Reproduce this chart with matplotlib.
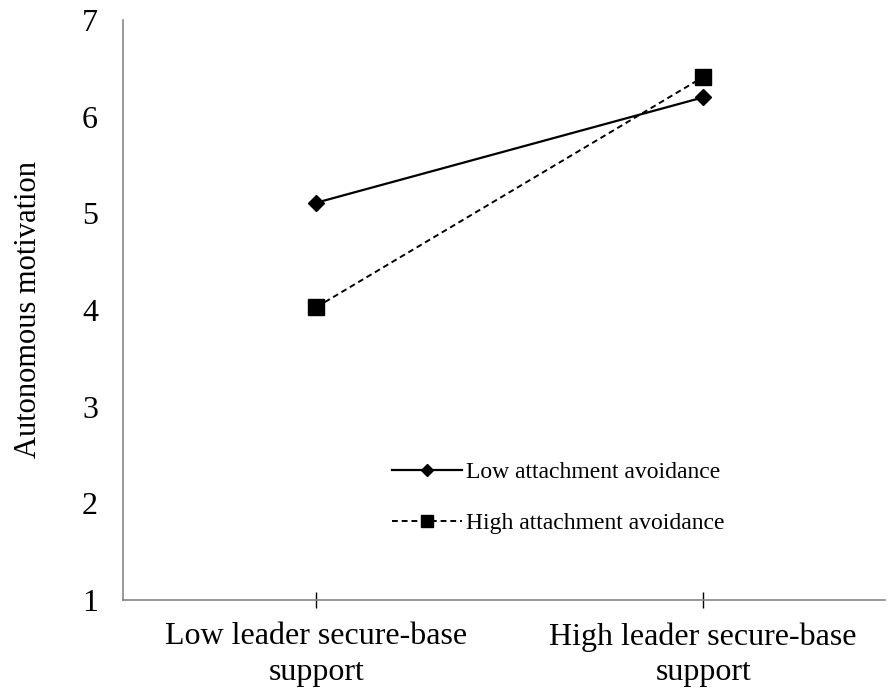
import matplotlib
matplotlib.use("Agg")
import matplotlib.pyplot as plt

categories = ["Low leader secure-base\nsupport", "High leader secure-base\nsupport"]
low_avoidance = [5.11, 6.20]
high_avoidance = [4.03, 6.41]
y_ticks = [1, 2, 3, 4, 5, 6, 7]

plt.rcParams['font.family'] = ['Liberation Serif', 'DejaVu Serif']

fig = plt.figure(figsize=(8.91, 6.95), dpi=100)
ax = fig.add_axes([123 / 891, 1 - 600 / 695, 762 / 891, 580 / 695])

x = list(range(len(categories)))
ax.plot(x, low_avoidance, color='black', linewidth=1.6, marker='D', markersize=8,
        label='Low attachment avoidance')
ax.plot(x, high_avoidance, color='black', linewidth=1.4, linestyle=(0, (3, 2)),
        marker='s', markersize=11, label='High attachment avoidance')

ax.set_xlim(-0.5, 1.47)
ax.set_ylim(1, 7)
ax.set_xticks(x)
ax.set_xticklabels(categories, fontsize=23, linespacing=1.3)
ax.set_yticks(y_ticks)
ax.set_yticklabels([str(v) for v in y_ticks], fontsize=23)
ax.tick_params(axis='y', length=0, pad=18)
ax.tick_params(axis='x', direction='inout', length=12, width=1, color='black', pad=10)

for s in ['top', 'right']:
    ax.spines[s].set_visible(False)
for s in ['left', 'bottom']:
    ax.spines[s].set_color('#868686')
    ax.spines[s].set_linewidth(1.2)

ax.set_ylabel("Autonomous motivation", fontsize=22, labelpad=28)

ax.legend(loc='upper left', bbox_to_anchor=(0.34, 0.255), frameon=False, fontsize=17,
          handlelength=3.0, handletextpad=0.15, labelspacing=1.25, borderaxespad=0,
          markerscale=0.8)

fig.savefig("out.png", dpi=100)
